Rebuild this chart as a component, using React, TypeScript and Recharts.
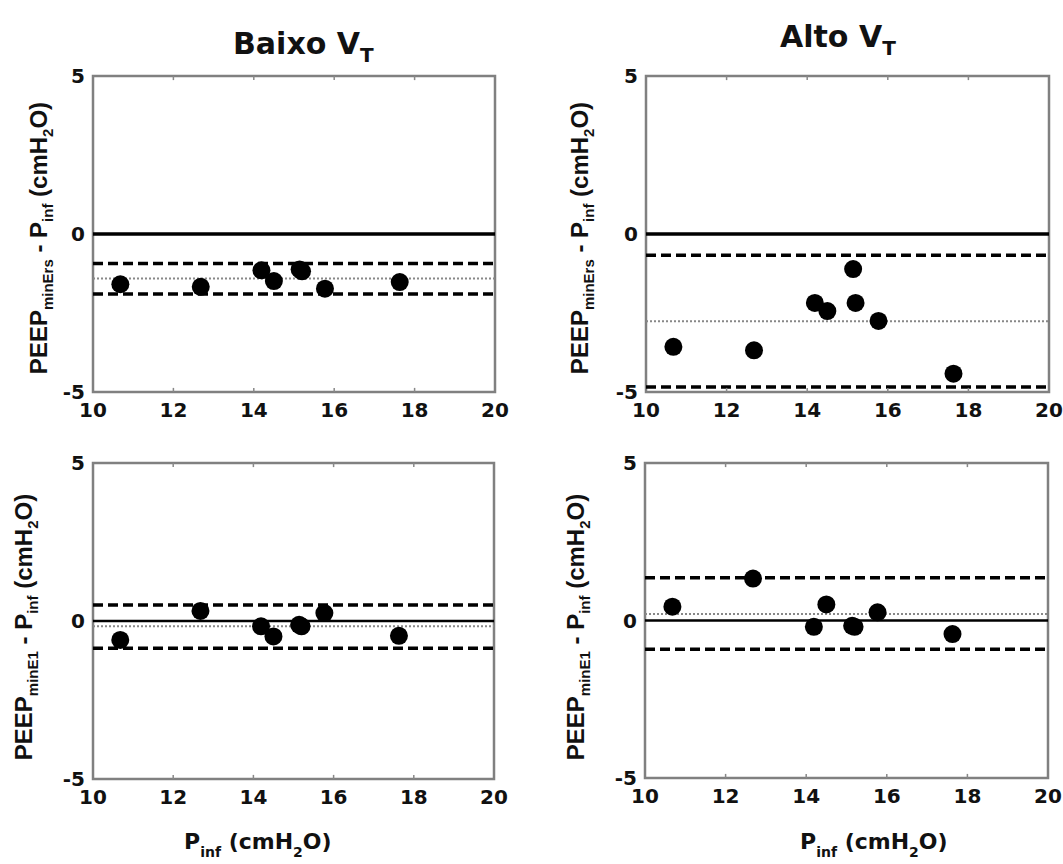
import React from "react";
import {
  ReferenceArea,
  ReferenceLine,
  Scatter,
  ScatterChart,
  XAxis,
  YAxis,
} from "recharts";

// shared P_inf values (x) for all four panels
const pinf = [10.68, 12.68, 14.19, 14.5, 15.14, 15.2, 15.77, 17.63];

// differences per panel
const baixoErs = [-1.59, -1.67, -1.15, -1.49, -1.12, -1.18, -1.73, -1.52];
const altoErs = [-3.57, -3.68, -2.18, -2.44, -1.11, -2.18, -2.75, -4.42];
const baixoE1 = [-0.6, 0.32, -0.17, -0.49, -0.12, -0.17, 0.25, -0.47];
const altoE1 = [0.44, 1.33, -0.2, 0.51, -0.17, -0.2, 0.26, -0.43];

// [bias, upper limit, lower limit]
const baixoErsLines = [-1.41, -0.93, -1.9];
const altoErsLines = [-2.76, -0.67, -4.84];
const baixoE1Lines = [-0.17, 0.51, -0.86];
const altoE1Lines = [0.21, 1.36, -0.91];

const xTicks = [10, 12, 14, 16, 18, 20];
const innerTicks = [12, 14, 16, 18];
const yTicks = [-5, 0, 5];

const tickStyle = {
  fill: "#111",
  fontSize: 20,
  fontWeight: 700,
  fontFamily: "'DejaVu Sans', sans-serif",
};

const YLabel = ({ px, py, sub }: { px: number; py: number; sub: string }) => (
  <text
    x={px}
    y={py}
    transform={`rotate(-90 ${px} ${py})`}
    textAnchor="middle"
    fontFamily="'Liberation Sans', Arial, sans-serif"
    fontWeight={700}
    fontSize={24}
    fill="#111"
  >
    PEEP
    <tspan dy={6} fontSize={15}>{sub}</tspan>
    <tspan dy={-6}> - P</tspan>
    <tspan dy={6} fontSize={15}>inf</tspan>
    <tspan dy={-6}> (cmH</tspan>
    <tspan dy={6} fontSize={15}>2</tspan>
    <tspan dy={-6}>O)</tspan>
  </text>
);

const XLabel = ({ px, py }: { px: number; py: number }) => (
  <text
    x={px}
    y={py}
    fontFamily="'DejaVu Sans', sans-serif"
    fontWeight={700}
    fontSize={22}
    fill="#111"
  >
    P
    <tspan dy={8} fontSize={14}>inf</tspan>
    <tspan dy={-8}> (cmH</tspan>
    <tspan dy={8} fontSize={14}>2</tspan>
    <tspan dy={-8}>O)</tspan>
  </text>
);

type PanelProps = {
  left: number;
  top: number;
  width: number;
  height: number;
  margin: { top: number; right: number; bottom: number; left: number };
  yAxisWidth: number;
  xAxisHeight: number;
  ys: number[];
  lines: number[];
  zeroWidth: number;
  sub: string;
  yLabelPos: [number, number];
  xLabelPos?: [number, number];
};

const Panel = (p: PanelProps) => {
  const data = pinf.map((x, i) => ({ x, y: p.ys[i] }));
  const [bias, upper, lower] = p.lines;
  return (
    <div style={{ position: "absolute", left: p.left, top: p.top }}>
      <ScatterChart width={p.width} height={p.height} margin={p.margin}>
        <XAxis
          type="number"
          dataKey="x"
          domain={[10, 20]}
          ticks={xTicks}
          height={p.xAxisHeight}
          axisLine={false}
          tickLine={false}
          tickSize={0}
          tickMargin={11}
          tick={tickStyle}
          label={
            p.xLabelPos ? (
              <XLabel px={p.xLabelPos[0]} py={p.xLabelPos[1]} />
            ) : undefined
          }
        />
        <YAxis
          type="number"
          dataKey="y"
          domain={[-5, 5]}
          ticks={yTicks}
          width={p.yAxisWidth}
          axisLine={false}
          tickLine={false}
          tickSize={0}
          tickMargin={8}
          tick={tickStyle}
          label={<YLabel px={p.yLabelPos[0]} py={p.yLabelPos[1]} sub={p.sub} />}
        />
        <ReferenceLine y={0} stroke="#000" strokeWidth={p.zeroWidth} />
        <ReferenceLine y={bias} stroke="#888" strokeWidth={2} strokeDasharray="2 2" />
        <ReferenceLine y={upper} stroke="#000" strokeWidth={3.5} strokeDasharray="10 5" />
        <ReferenceLine y={lower} stroke="#000" strokeWidth={3.5} strokeDasharray="10 5" />
        {innerTicks.map((t) => (
          <ReferenceLine
            key={"b" + t}
            segment={[{ x: t, y: -5 }, { x: t, y: -4.87 }]}
            stroke="#888"
            strokeWidth={1.5}
          />
        ))}
        {innerTicks.map((t) => (
          <ReferenceLine
            key={"t" + t}
            segment={[{ x: t, y: 5 }, { x: t, y: 4.87 }]}
            stroke="#888"
            strokeWidth={1.5}
          />
        ))}
        <ReferenceArea
          x1={10}
          x2={20}
          y1={-5}
          y2={5}
          fill="none"
          fillOpacity={0}
          stroke="#808080"
          strokeWidth={2.5}
        />
        <Scatter
          data={data}
          isAnimationActive={false}
          shape={(s: any) => <circle cx={s.cx} cy={s.cy} r={9} fill="#000" />}
        />
      </ScatterChart>
    </div>
  );
};

export default function App() {
  return (
    <div
      style={{
        position: "absolute",
        left: 0,
        top: 0,
        width: 1063,
        height: 864,
        background: "#fff",
      }}
    >
      <svg
        width={1063}
        height={80}
        style={{ position: "absolute", left: 0, top: 0 }}
      >
        <text
          x={233}
          y={54}
          fontFamily="'DejaVu Sans', sans-serif"
          fontWeight={700}
          fontSize={30}
          fill="#111"
        >
          Baixo V<tspan dy={8} fontSize={20}>T</tspan>
        </text>
        <text
          x={780}
          y={47}
          fontFamily="'DejaVu Sans', sans-serif"
          fontWeight={700}
          fontSize={30}
          fill="#111"
        >
          Alto V<tspan dy={8} fontSize={20}>T</tspan>
        </text>
      </svg>
      <Panel
        left={0}
        top={0}
        width={531}
        height={431}
        margin={{ top: 76, right: 36, bottom: 0, left: 0 }}
        yAxisWidth={93}
        xAxisHeight={39}
        ys={baixoErs}
        lines={baixoErsLines}
        zeroWidth={3.5}
        sub="minErs"
        yLabelPos={[47, 238]}
      />
      <Panel
        left={531}
        top={0}
        width={532}
        height={431}
        margin={{ top: 76, right: 14, bottom: 0, left: 0 }}
        yAxisWidth={115}
        xAxisHeight={39}
        ys={altoErs}
        lines={altoErsLines}
        zeroWidth={3.5}
        sub="minErs"
        yLabelPos={[57, 238]}
      />
      <Panel
        left={0}
        top={431}
        width={531}
        height={433}
        margin={{ top: 32, right: 37, bottom: 0, left: 0 }}
        yAxisWidth={93}
        xAxisHeight={85}
        ys={baixoE1}
        lines={baixoE1Lines}
        zeroWidth={2.5}
        sub="minE1"
        yLabelPos={[32, 196]}
        xLabelPos={[184, 418]}
      />
      <Panel
        left={531}
        top={431}
        width={532}
        height={433}
        margin={{ top: 32, right: 15, bottom: 0, left: 0 }}
        yAxisWidth={114}
        xAxisHeight={86}
        ys={altoE1}
        lines={altoE1Lines}
        zeroWidth={2.5}
        sub="minE1"
        yLabelPos={[53, 196]}
        xLabelPos={[269, 418]}
      />
    </div>
  );
}
